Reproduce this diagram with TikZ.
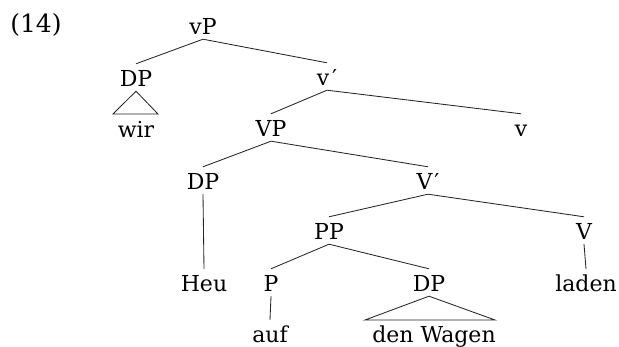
\documentclass[tikz,border=0pt]{standalone}
\usepackage{fontspec}
\setmainfont{DejaVu Serif}
\begin{document}
\begin{tikzpicture}[x=1pt,y=-1pt,
  lab/.style={anchor=base, inner xsep=1pt, inner ysep=4pt, text height=19pt, text depth=0pt, font=\fontsize{22}{26}\selectfont},
  edge/.style={draw=black!85, line width=0.85pt}]
\useasboundingbox (0,0) rectangle (619,347);
\node[lab, font=\fontsize{25}{30}\selectfont] (ex) at (36,33) {(14)};
\node[lab] (vP) at (203,35) {vP};
\node[lab] (DPa) at (136,87) {DP};
\node[lab] (wir) at (136,138) {wir};
\node[lab] (vbar) at (327,86) {v\kern3pt′};
\node[lab] (VP) at (271,137) {VP};
\node[lab] (v) at (521,137) {v};
\node[lab] (DPb) at (203,190) {DP};
\node[lab] (Vbar) at (428,190) {V\kern2pt′};
\node[lab] (Heu) at (204,292) {Heu};
\node[lab] (PP) at (329,240) {PP};
\node[lab] (V) at (584,240) {V};
\node[lab] (P) at (271,292) {P};
\node[lab] (DPc) at (429,292) {DP};
\node[lab] (laden) at (586,292) {laden};
\node[lab] (auf) at (270,343) {auf};
\node[lab] (denW) at (434,343) {den Wagen};
\coordinate (ta1) at (113,114);
\coordinate (ta2) at (158,114);
\coordinate (tc1) at (365,320);
\coordinate (tc2) at (495,320);
\draw[edge] (vP.south) -- (DPa.north);
\draw[edge] (vP.south) -- (vbar.north);
\draw[edge] (vbar.south) -- (VP.north);
\draw[edge] (vbar.south) -- (v.north);
\draw[edge] (VP.south) -- (DPb.north);
\draw[edge] (VP.south) -- (Vbar.north);
\draw[edge] (DPb.south) -- (Heu.north);
\draw[edge] (Vbar.south) -- (PP.north);
\draw[edge] (Vbar.south) -- (V.north);
\draw[edge] (V.south) -- (laden.north);
\draw[edge] (PP.south) -- (P.north);
\draw[edge] (PP.south) -- (DPc.north);
\draw[edge] (P.south) -- (auf.north);
\draw[edge] (DPa.south) -- (ta1) -- (ta2) -- cycle;
\draw[edge] (DPc.south) -- (tc1) -- (tc2) -- cycle;
\end{tikzpicture}
\end{document}
